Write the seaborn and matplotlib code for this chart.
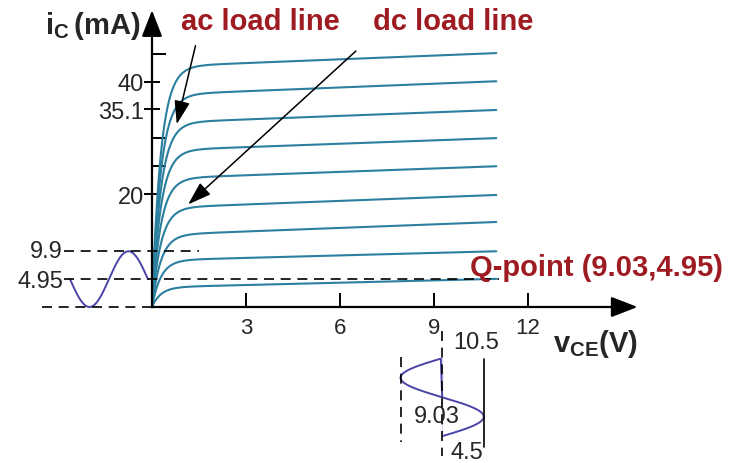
import numpy as np
import pandas as pd
import matplotlib
matplotlib.use("Agg")
import matplotlib.pyplot as plt
import seaborn as sns

# transistor output characteristics (iC in mA, vCE in V)
ic_knee = [43.0, 38.0, 33.0, 28.1, 23.1, 17.9, 13.1, 8.5, 3.7]   # level at v_knee
ic_end = [45.1, 40.1, 35.0, 30.0, 25.0, 19.9, 15.1, 9.9, 5.0]    # level at v_end
v_knee = 1.5
v_end = 11.0
knee_tau = 0.28

y_ticks_major = [20, 35.1, 40]
y_ticks_minor = [25, 30, 45]
x_ticks = [3, 6, 9, 12]

q_vce, q_ic = 9.03, 4.95
ic_peak = 9.9

# input current wave (left) and output voltage wave (below)
ic_wave_start, ic_wave_period = -2.62, 2.49
vce_wave_mid, vce_wave_amp = 9.27, 1.33
vce_wave_lo, vce_wave_hi = 7.94, 10.6
vce_wave_start, vce_wave_period = -9.1, 13.85

curve_color = "#2b7f9f"
wave_color = "#4b44a8"
red = "#9e1b22"

sns.set_theme(style="white")
plt.rcParams["font.family"] = ["Liberation Sans", "DejaVu Sans"]
plt.rcParams["mathtext.fontset"] = "custom"
plt.rcParams["mathtext.bf"] = "Liberation Sans:bold"
plt.rcParams["mathtext.rm"] = "Liberation Sans"

# build curves
rows = []
v = np.linspace(0, v_end, 400)
for k, (a, b) in enumerate(zip(ic_knee, ic_end)):
    plateau = a + (b - a) * (v - v_knee) / (v_end - v_knee)
    ic = plateau * (1 - np.exp(-v / knee_tau))
    rows.append(pd.DataFrame({"vce": v, "ic": ic, "curve": k}))
curves = pd.concat(rows)

t1 = np.linspace(ic_wave_start, ic_wave_start + ic_wave_period, 200)
wave_in = pd.DataFrame({"t": t1, "ic": q_ic - q_ic * np.sin(2 * np.pi * (t1 - ic_wave_start) / ic_wave_period)})

t2 = np.linspace(vce_wave_start, vce_wave_start - vce_wave_period, 200)
wave_out = pd.DataFrame({"t": t2, "vce": vce_wave_mid - vce_wave_amp * np.sin(2 * np.pi * (vce_wave_start - t2) / vce_wave_period)})

fig = plt.figure(figsize=(7.32, 4.64), dpi=100)
ax = fig.add_axes([0, 0, 1, 1])
ax.set_xlim(-4.856, 18.53)
ax.set_ylim(-27.71, 54.71)

sns.lineplot(data=curves, x="vce", y="ic", units="curve", estimator=None,
             color=curve_color, lw=1.5, ax=ax, legend=False)
sns.lineplot(data=wave_in, x="t", y="ic", color=wave_color, lw=1.4, ax=ax, sort=False)
sns.lineplot(data=wave_out, x="vce", y="t", color=wave_color, lw=1.4, ax=ax, sort=False)

# axes at the origin
for s in ["top", "right"]:
    ax.spines[s].set_visible(False)
ax.spines["left"].set_position(("data", 0))
ax.spines["bottom"].set_position(("data", 0))
ax.spines["left"].set_bounds(0, 52)
ax.spines["bottom"].set_bounds(0, 15.2)
for s in ["left", "bottom"]:
    ax.spines[s].set_color("black")
    ax.spines[s].set_linewidth(1.6)
arrow = dict(arrowstyle="-|>,head_length=0.9,head_width=0.35", color="black", lw=1.6, mutation_scale=18)
ax.annotate("", xy=(0, 53.2), xytext=(0, 50), arrowprops=arrow)
ax.annotate("", xy=(15.6, 0), xytext=(15.0, 0), arrowprops=arrow)

ax.set_yticks(y_ticks_major)
ax.set_yticklabels(["20", "35.1", "40"])
ax.set_yticks(y_ticks_minor, minor=True)
ax.set_xticks(x_ticks)
ax.set_xticklabels([str(x) for x in x_ticks])
ax.tick_params(axis="y", which="major", direction="inout", length=12, width=1.4,
               color="black", labelsize=17, pad=0, left=True)
ax.tick_params(axis="y", which="minor", direction="in", length=10, width=1.4,
               color="black", left=True)
ax.tick_params(axis="x", which="major", direction="in", length=10, width=1.4,
               color="black", labelsize=16, pad=7, bottom=True)
ax.set_xlabel("")
ax.set_ylabel("")

# dashed guide lines
dash = dict(color="black", lw=1.2, ls=(0, (6, 4)))
ax.plot([-2.8, v_knee], [ic_peak, ic_peak], **dash)
ax.plot([-2.8, 11.1], [q_ic, q_ic], **dash)
ax.plot([-3.5, 0], [0, 0], **dash)
ax.plot([vce_wave_mid, vce_wave_mid], [-4.3, -26.5], **dash)
ax.plot([vce_wave_lo, vce_wave_lo], [-8.9, -24.0], **dash)
ax.plot([vce_wave_hi, vce_wave_hi], [-9.2, -24.9], color="black", lw=1.2)

ax.text(-2.84, ic_peak, "9.9", ha="right", va="center", fontsize=17)
ax.text(-2.84, q_ic - 0.3, "4.95", ha="right", va="center", fontsize=17)
ax.text(10.35, -6.2, "10.5", ha="center", va="center", fontsize=17)
ax.text(9.1, -19.4, "9.03", ha="center", va="center", fontsize=17)
ax.text(10.06, -25.8, "4.5", ha="center", va="center", fontsize=17)

# labels
ax.text(-3.42, 50.1, r"$\mathbf{i}_\mathbf{C}\,\mathbf{(mA)}$", ha="left", va="center", fontsize=21)
ax.text(12.81, -6.4, r"$\mathbf{v}_\mathbf{CE}\mathbf{(V)}$", ha="left", va="center", fontsize=21)
ax.text(3.45, 50.8, "ac load line", ha="center", va="center", fontsize=21, fontweight="bold", color=red)
ax.text(9.62, 50.8, "dc load line", ha="center", va="center", fontsize=21, fontweight="bold", color=red)
ax.text(10.16, 7.1, "Q-point (9.03,4.95)", ha="left", va="center", fontsize=21, fontweight="bold", color=red)

pointer = dict(arrowstyle="-|>,head_length=0.9,head_width=0.3", color="black", lw=1.1, mutation_scale=16)
ax.annotate("", xy=(0.77, 32.0), xytext=(1.41, 46.9), arrowprops=pointer)
ax.annotate("", xy=(1.09, 17.9), xytext=(6.58, 45.8), arrowprops=pointer)

fig.savefig("out.png", dpi=100)
